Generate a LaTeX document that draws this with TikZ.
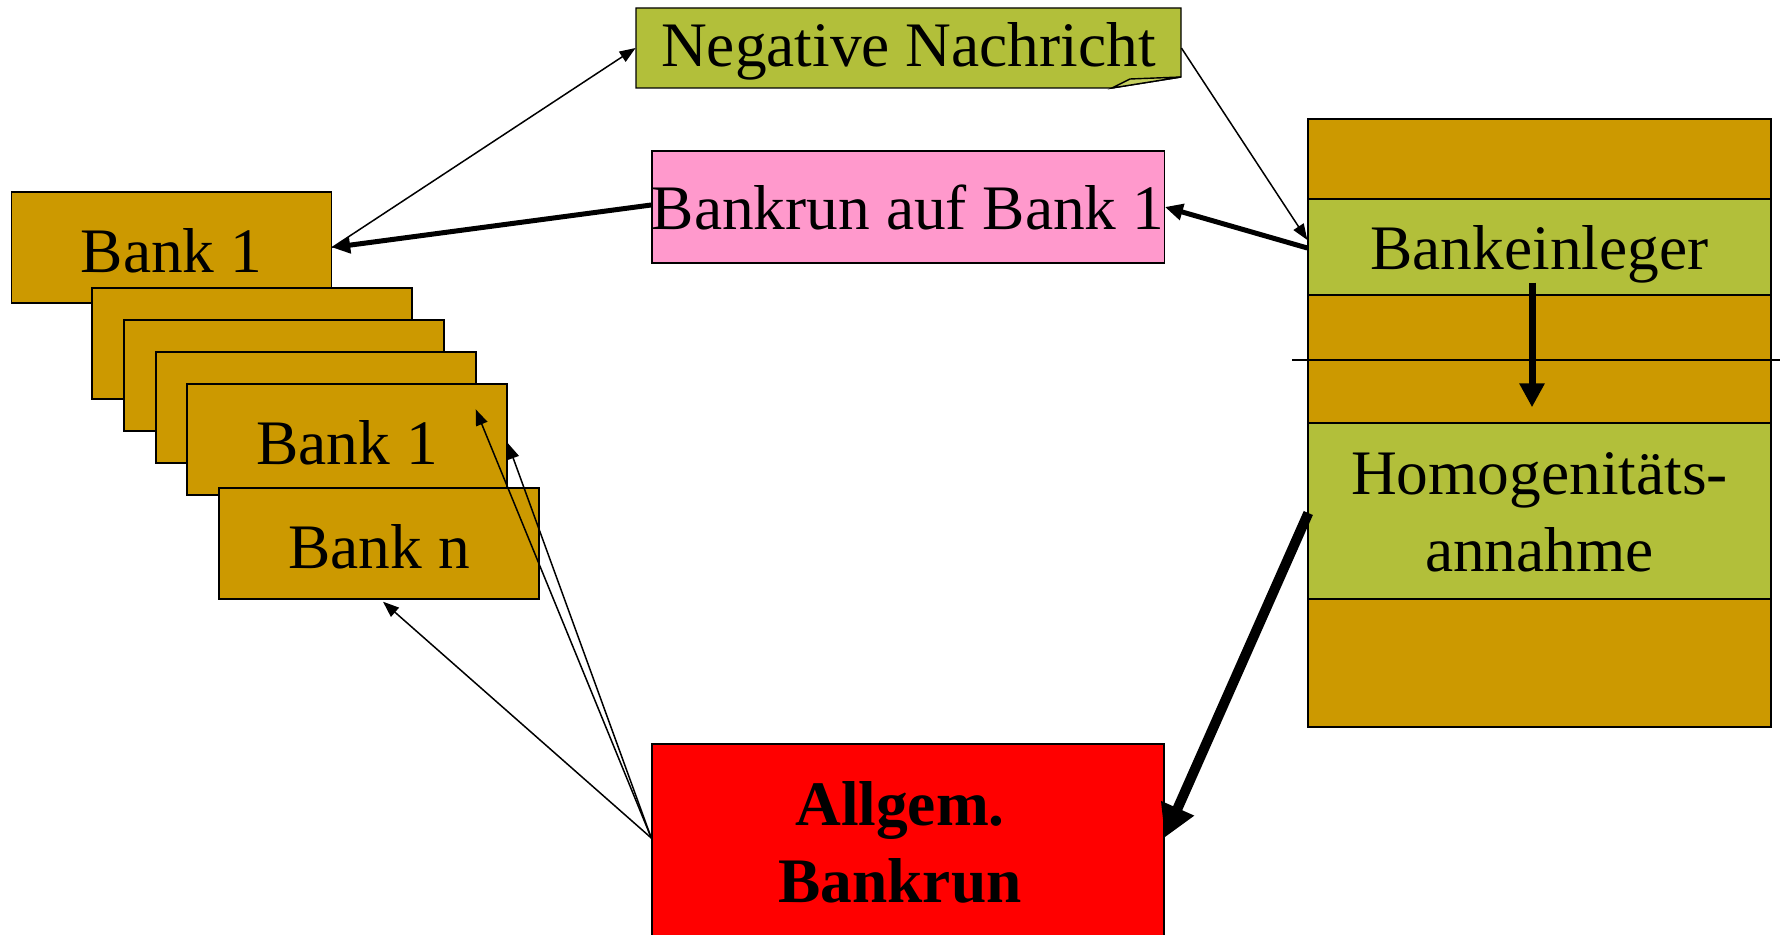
\documentclass[tikz,border=0pt]{standalone}
\usepackage{fontspec}
\setmainfont{Liberation Serif}
\usetikzlibrary{arrows.meta,calc}
\definecolor{bkbrown}{RGB}{204,153,0}
\definecolor{bkgreen}{RGB}{178,191,58}
\definecolor{bkgreenlight}{RGB}{196,206,96}
\definecolor{bkpink}{RGB}{255,153,204}
\definecolor{bkred}{RGB}{255,0,0}
\newcommand\lowtxt[2]{\raisebox{-#1}[\height][\depth]{#2}}
\begin{document}
\begin{tikzpicture}[x=0.5pt,y=-0.5pt,
  box/.style={draw=black, line width=0.7pt, inner sep=0pt, font=\fontsize{31.7}{37}\selectfont},
  bankbox/.style={box, fill=bkbrown, minimum width=160pt, minimum height=55.5pt},
  greenband/.style={box, fill=bkgreen, minimum width=231.5pt, align=center},
  lbl/.style={inner sep=0pt, font=\fontsize{31.7}{37}\selectfont},
  thinarrow/.style={line width=0.75pt, -{Triangle[length=8pt,width=6pt]}},
  thickarrow/.style={line width=2.5pt, -{Triangle[length=9pt,width=8pt]}},
  downarrow/.style={line width=3.5pt, -{Triangle[length=12pt,width=12pt]}},
  hugearrow/.style={line width=5pt, -{Triangle[length=16pt,width=17pt]}}]
\useasboundingbox (0,0) rectangle (1780,935);

% Negative Nachricht (folded corner)
\filldraw[fill=bkgreen, line width=0.7pt] (636,8) -- (1181,8) -- (1181,77) -- (1112,88) -- (636,88) -- cycle;
\filldraw[fill=bkgreenlight, line width=0.7pt] (1112,88) -- (1130,79) -- (1181,77) -- cycle;
\node[lbl, minimum width=272.5pt, minimum height=40pt] (nn) at (908.5,48) {\lowtxt{1.5pt}{Negative Nachricht}};

% Bankrun auf Bank 1
\node[box, fill=bkpink, minimum width=256pt, minimum height=56pt] (pink) at (908,207) {Bankrun auf Bank 1};

% bank stack
\node[bankbox] (bankA) at (171.5,247.5) {\lowtxt{1.5pt}{Bank 1}};
\node[bankbox] (s2) at (252,343.5) {};
\node[bankbox] (s3) at (284,375.5) {};
\node[bankbox] (s4) at (316,407.5) {};
\node[bankbox] (s5) at (347,439.5) {\lowtxt{1.5pt}{Bank 1}};
\node[bankbox] (bankn) at (379,543.5) {\lowtxt{1.5pt}{Bank n}};

% right column
\node[box, fill=bkbrown, minimum width=231.5pt, minimum height=304pt] (col) at (1539.5,423) {};
\node[greenband, minimum height=48pt] (einl) at (1539.5,247) {\lowtxt{3.5pt}{Bankeinleger}};
\node[greenband, minimum height=88pt, font=\fontsize{31.7}{38.5}\selectfont] (homo) at (1539.5,511) {\lowtxt{3.5pt}{\begin{tabular}{@{}c@{}}Homogenitäts-\\annahme\end{tabular}}};
\draw[line width=0.7pt] (1292,360) -- (1780,360);

% Allgem. Bankrun
\node[box, fill=bkred, minimum width=256pt, minimum height=100.5pt] (allg) at (908,844.5) {};
\node[lbl, align=center, font=\fontsize{31.7}{38.5}\bfseries\selectfont] (allgtxt) at (900,842) {Allgem.\\Bankrun};

% connectors
\draw[thinarrow] (bankA.east) -- (nn.west);
\draw[thickarrow] ($(pink.west)+(0,-2)$) -- (bankA.east);
\draw[thinarrow] (nn.east) -- ($(einl.west)+(0,-7)$);
\draw[thickarrow] ($(einl.west)+(0,1)$) -- (pink.east);
\draw[downarrow] ($(einl.south)+(-7.5,-13)$) -- ($(homo.north)+(-7.5,-15)$);
\draw[hugearrow] ($(homo.west)+(1,2)$) -- ($(allg.east)+(0,-7)$);
\draw[thinarrow] ($(allg.west)+(0,-6.5)$) -- ($(bankn.south)+(4,2)$);
\draw[thinarrow] ($(allg.west)+(0,-6.5)$) -- ($(s5.north east)+(-32,26)$);
\draw[thinarrow] ($(allg.west)+(0,-6.5)$) -- ($(s5.east)+(0,3.5)$);
\end{tikzpicture}
\end{document}
